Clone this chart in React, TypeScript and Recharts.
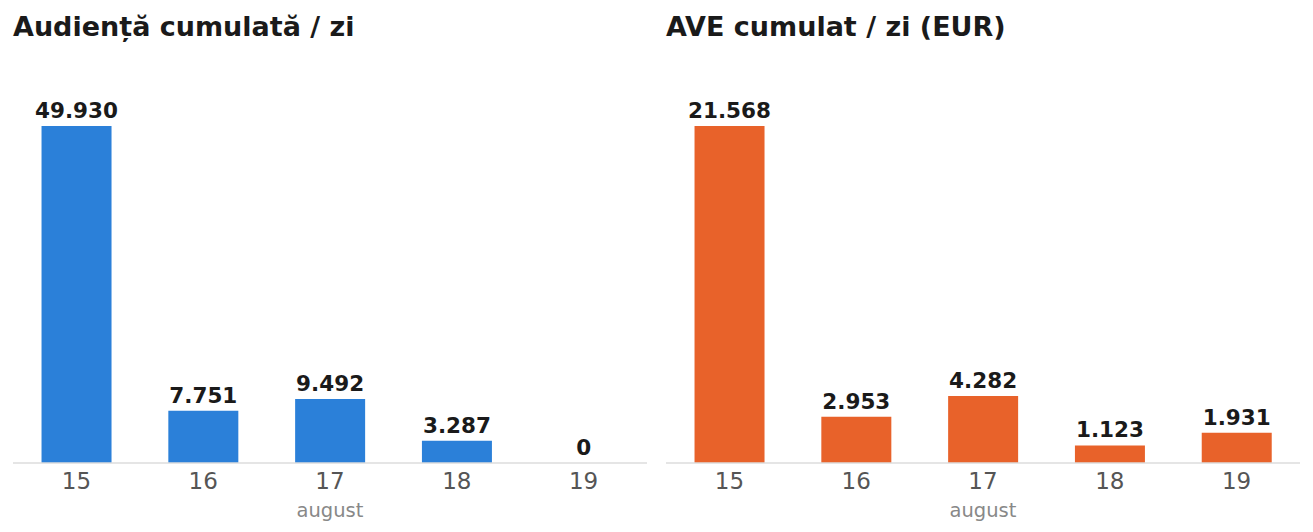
import React from 'react';
import { BarChart, Bar, XAxis, YAxis, LabelList } from 'recharts';

const DAYS = ['15', '16', '17', '18', '19'];
const AUDIENCE = [49930, 7751, 9492, 3287, 0];
const AVE_EUR = [21568, 2953, 4282, 1123, 1931];
const MONTH_LABEL = 'august';

const FONT = '"DejaVu Sans", sans-serif';

function formatThousands(v: number): string {
  return String(v).replace(/\B(?=(\d{3})+(?!\d))/g, '.');
}

interface PanelProps {
  title: string;
  values: number[];
  color: string;
  left: number;
}

function Panel({ title, values, color, left }: PanelProps) {
  const data = DAYS.map((day, i) => ({ day, value: values[i] }));
  return (
    <div style={{ position: 'absolute', left, top: 0, width: 660, height: 532 }}>
      <div
        style={{
          position: 'absolute',
          left: 13,
          top: 11,
          fontFamily: FONT,
          fontWeight: 'bold',
          fontSize: 27,
          color: '#1a1a1a',
          whiteSpace: 'nowrap',
        }}
      >
        {title}
      </div>
      <BarChart
        width={660}
        height={532}
        data={data}
        margin={{ top: 75, right: 13, bottom: 0, left: 13 }}
        barCategoryGap="22.5%"
      >
        <XAxis
          dataKey="day"
          height={69}
          tickLine={false}
          axisLine={{ stroke: '#dddddd', strokeWidth: 1.5 }}
          tick={{ fontSize: 23, fill: '#555555', fontFamily: FONT, dy: 2 }}
          label={{
            value: MONTH_LABEL,
            position: 'insideBottom',
            offset: 15,
            fontSize: 19.5,
            fill: '#888888',
            fontFamily: FONT,
          }}
        />
        <YAxis hide domain={[0, (max: number) => max * 1.1513]} />
        <Bar
          dataKey="value"
          fill={color}
          isAnimationActive={false}
          minPointSize={(v: number) => (v === 0 ? 0.01 : 0)}
        >
          <LabelList
            dataKey="value"
            position="top"
            offset={8}
            formatter={(v: number) => formatThousands(v)}
            style={{ fontSize: 21.5, fontWeight: 'bold', fill: '#1a1a1a', fontFamily: FONT }}
          />
        </Bar>
      </BarChart>
    </div>
  );
}

export default function App() {
  return (
    <div style={{ position: 'absolute', left: 0, top: 0, width: 1313, height: 532, background: '#ffffff' }}>
      <Panel title="Audiență cumulată / zi" values={AUDIENCE} color="#2b80d9" left={0} />
      <Panel title="AVE cumulat / zi (EUR)" values={AVE_EUR} color="#e8622a" left={653} />
    </div>
  );
}
